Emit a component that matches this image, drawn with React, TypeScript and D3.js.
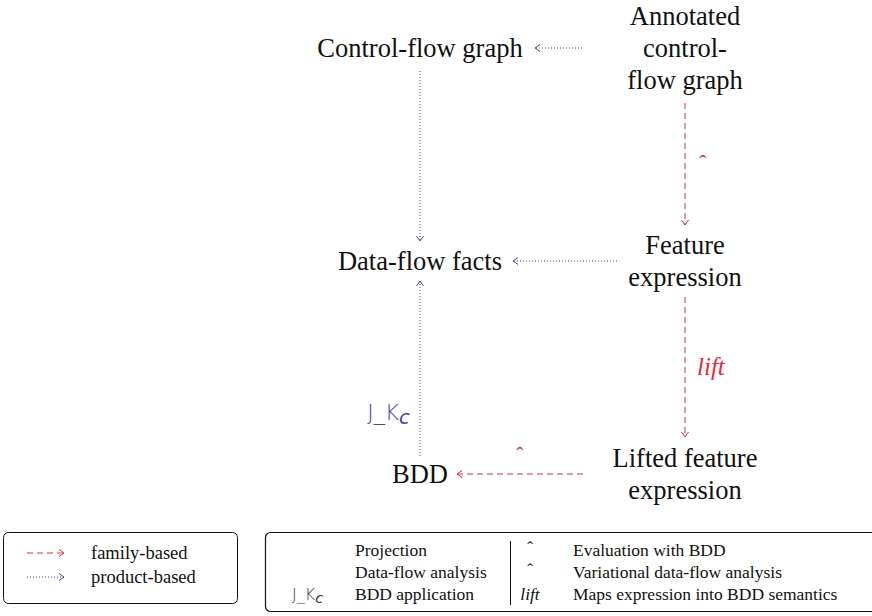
import React, { useEffect, useRef } from 'react';
import * as d3 from 'd3';

// Nodes of the diagram (grid column / row)
const nodeIds = ['cfg', 'acfg', 'dff', 'fexpr', 'bdd', 'lfexpr'];
const nodeLabels = [
  ['Control-flow graph'],
  ['Annotated', 'control-', 'flow graph'],
  ['Data-flow facts'],
  ['Feature', 'expression'],
  ['BDD'],
  ['Lifted feature', 'expression'],
];
const nodeCols = [0, 1, 0, 1, 0, 1];
const nodeRows = [0, 0, 1, 1, 2, 2];

// Edges
const edgeFrom = ['acfg', 'cfg', 'fexpr', 'bdd', 'acfg', 'fexpr', 'lfexpr'];
const edgeTo = ['cfg', 'dff', 'dff', 'dff', 'fexpr', 'lfexpr', 'bdd'];
const edgeKind = ['product', 'product', 'product', 'product', 'family', 'family', 'family'];
const edgeLabel = ['', '', '', 'JK', 'hat', 'lift', 'hat'];

// Legends
const kindNames = ['family', 'product'];
const kindLabels = ['family-based', 'product-based'];
const keySymbols = ['', '', 'JK'];
const keyTexts = ['Projection', 'Data-flow analysis', 'BDD application'];
const key2Symbols = ['hat', 'hat', 'lift'];
const key2Texts = ['Evaluation with BDD', 'Variational data-flow analysis', 'Maps expression into BDD semantics'];

// layout: node boundary half sizes
const nodeBox: Record<string, { rx: number; ry: number }> = {
  cfg: { rx: 115, ry: 23 },
  acfg: { rx: 103, ry: 55 },
  dff: { rx: 93, ry: 20 },
  fexpr: { rx: 68, ry: 36 },
  bdd: { rx: 37, ry: 18 },
  lfexpr: { rx: 102, ry: 37 },
};
const labelPlace: Record<string, { pos: number; dx: number; dy: number; anchor: string }> = {
  JK: { pos: 0.25, dx: -10, dy: 8, anchor: 'end' },
  hat: { pos: 0.5, dx: 0, dy: 0, anchor: 'middle' },
  lift: { pos: 0.5, dx: 12, dy: 8, anchor: 'start' },
};

const RED = '#e8283a';
const BLUE = '#4444b0';
const SERIF = 'Liberation Serif';
const SANS = 'DejaVu Sans';

const App = () => {
  const svgRef = useRef<SVGSVGElement>(null);

  useEffect(() => {
    if (!svgRef.current) return;
    const svg = d3.select(svgRef.current);
    svg.selectAll('*').remove();

    const xScale = d3.scalePoint<number>().domain([0, 1]).range([420, 685]);
    const yScale = d3.scalePoint<number>().domain([0, 1, 2]).range([48, 474]);

    const color = (k: string) => (k === 'family' ? RED : BLUE);
    const dash = (k: string) => (k === 'family' ? '6,4' : '1,2');

    const defs = svg.append('defs');
    kindNames.forEach((k) => {
      defs.append('marker')
        .attr('id', `arrow-${k}`)
        .attr('viewBox', '0 -4 6 8')
        .attr('refX', 5.5)
        .attr('refY', 0)
        .attr('markerWidth', 6)
        .attr('markerHeight', 8)
        .attr('markerUnits', 'userSpaceOnUse')
        .attr('orient', 'auto')
        .append('path')
        .attr('d', 'M0.5,-3.5 L5.5,0 L0.5,3.5')
        .attr('fill', 'none')
        .attr('stroke', color(k))
        .attr('stroke-width', 1);
    });

    const pos = (id: string) => {
      const i = nodeIds.indexOf(id);
      return { x: xScale(nodeCols[i])!, y: yScale(nodeRows[i])! };
    };

    // Nodes
    const lineH = 32;
    nodeIds.forEach((id, i) => {
      const p = pos(id);
      const lines = nodeLabels[i];
      const t = svg.append('text')
        .attr('text-anchor', 'middle')
        .attr('font-family', SERIF)
        .attr('font-size', 26.5)
        .attr('fill', '#111');
      lines.forEach((ln, j) => {
        t.append('tspan')
          .attr('x', p.x)
          .attr('y', p.y + 9 + (j - (lines.length - 1) / 2) * lineH)
          .text(ln);
      });
    });

    const drawSymbol = (g: d3.Selection<any, any, any, any>, sym: string, x: number, y: number, anchor: string, fill: string, size: number) => {
      if (sym === 'JK') {
        const t = g.append('text')
          .attr('x', x).attr('y', y)
          .attr('text-anchor', anchor)
          .attr('font-family', SANS)
          .attr('font-weight', 300)
          .attr('font-size', size)
          .attr('fill', fill);
        t.append('tspan').text('J_K');
        t.append('tspan')
          .attr('dy', size * 0.18)
          .attr('font-style', 'italic')
          .attr('font-size', size * 0.9)
          .text('c');
      } else if (sym === 'hat') {
        g.append('text')
          .attr('x', x).attr('y', y + size * 0.55)
          .attr('text-anchor', anchor)
          .attr('font-family', SERIF)
          .attr('font-size', size)
          .attr('fill', fill)
          .text('\u02C6');
      } else if (sym === 'lift') {
        g.append('text')
          .attr('x', x).attr('y', y)
          .attr('text-anchor', anchor)
          .attr('font-family', SERIF)
          .attr('font-style', 'italic')
          .attr('font-size', size)
          .attr('fill', fill)
          .text('lift');
      }
    };

    // Edges
    edgeFrom.forEach((f, i) => {
      const a = pos(f);
      const b = pos(edgeTo[i]);
      const ba = nodeBox[f];
      const bb = nodeBox[edgeTo[i]];
      let x1 = a.x, y1 = a.y, x2 = b.x, y2 = b.y;
      if (Math.abs(a.y - b.y) < 1) {
        const s = Math.sign(b.x - a.x);
        x1 = a.x + s * ba.rx;
        x2 = b.x - s * bb.rx;
      } else {
        const s = Math.sign(b.y - a.y);
        y1 = a.y + s * ba.ry;
        y2 = b.y - s * bb.ry;
      }
      const k = edgeKind[i];
      svg.append('line')
        .attr('x1', x1).attr('y1', y1).attr('x2', x2).attr('y2', y2)
        .attr('stroke', color(k))
        .attr('stroke-width', 1)
        .attr('stroke-dasharray', dash(k))
        .attr('marker-end', `url(#arrow-${k})`);

      const lab = edgeLabel[i];
      if (lab) {
        const lp = labelPlace[lab];
        const mx = x1 + (x2 - x1) * lp.pos;
        const my = y1 + (y2 - y1) * lp.pos;
        const horiz = Math.abs(y1 - y2) < 1;
        let lx = mx + lp.dx;
        let ly = my + lp.dy;
        if (lab === 'hat') {
          if (horiz) ly = my - 24;
          else { lx = mx + 18; ly = my - 6; }
        }
        const size = lab === 'JK' ? 22 : lab === 'lift' ? 25 : 22;
        drawSymbol(svg, lab, lx, ly, lp.anchor, color(k), size);
      }
    });

    // Left legend
    const lg = svg.append('g');
    lg.append('rect')
      .attr('x', 3.5).attr('y', 532.5).attr('width', 234).attr('height', 71)
      .attr('rx', 5)
      .attr('fill', 'none').attr('stroke', '#111').attr('stroke-width', 1);
    const legY = d3.scalePoint<number>().domain([0, 1]).range([553, 577]);
    kindNames.forEach((k, i) => {
      const y = legY(i)!;
      lg.append('line')
        .attr('x1', 27).attr('x2', 64).attr('y1', y).attr('y2', y)
        .attr('stroke', color(k)).attr('stroke-width', 1)
        .attr('stroke-dasharray', dash(k))
        .attr('marker-end', `url(#arrow-${k})`);
      lg.append('text')
        .attr('x', 91).attr('y', y + 6)
        .attr('font-family', SERIF)
        .attr('font-size', 18.5)
        .attr('fill', '#111')
        .text(kindLabels[i]);
    });

    // Right legend
    const rg = svg.append('g');
    rg.append('rect')
      .attr('x', 265.5).attr('y', 532.5).attr('width', 640).attr('height', 79)
      .attr('rx', 5)
      .attr('fill', 'none').attr('stroke', '#111').attr('stroke-width', 1.2);
    const rowY = d3.scalePoint<number>().domain([0, 1, 2]).range([550, 594]);
    keyTexts.forEach((t, i) => {
      const y = rowY(i)!;
      if (keySymbols[i]) drawSymbol(rg, keySymbols[i], 292, y + 6, 'start', '#333', 16);
      rg.append('text')
        .attr('x', 355).attr('y', y + 6)
        .attr('font-family', SERIF).attr('font-size', 17.5)
        .attr('fill', '#111')
        .text(t);
    });
    rg.append('line')
      .attr('x1', 510.5).attr('x2', 510.5).attr('y1', 541).attr('y2', 605)
      .attr('stroke', '#111').attr('stroke-width', 1);
    key2Texts.forEach((t, i) => {
      const y = rowY(i)!;
      drawSymbol(rg, key2Symbols[i], 530, key2Symbols[i] === 'hat' ? y - 6 : y + 6, 'middle', '#111', key2Symbols[i] === 'hat' ? 17 : 17.5);
      rg.append('text')
        .attr('x', 573).attr('y', y + 6)
        .attr('font-family', SERIF).attr('font-size', 17.5)
        .attr('fill', '#111')
        .text(t);
    });
  }, []);

  return (
    <svg
      ref={svgRef}
      width={872}
      height={616}
      style={{ position: 'absolute', left: 0, top: 0, background: '#fff' }}
    />
  );
};

export default App;
